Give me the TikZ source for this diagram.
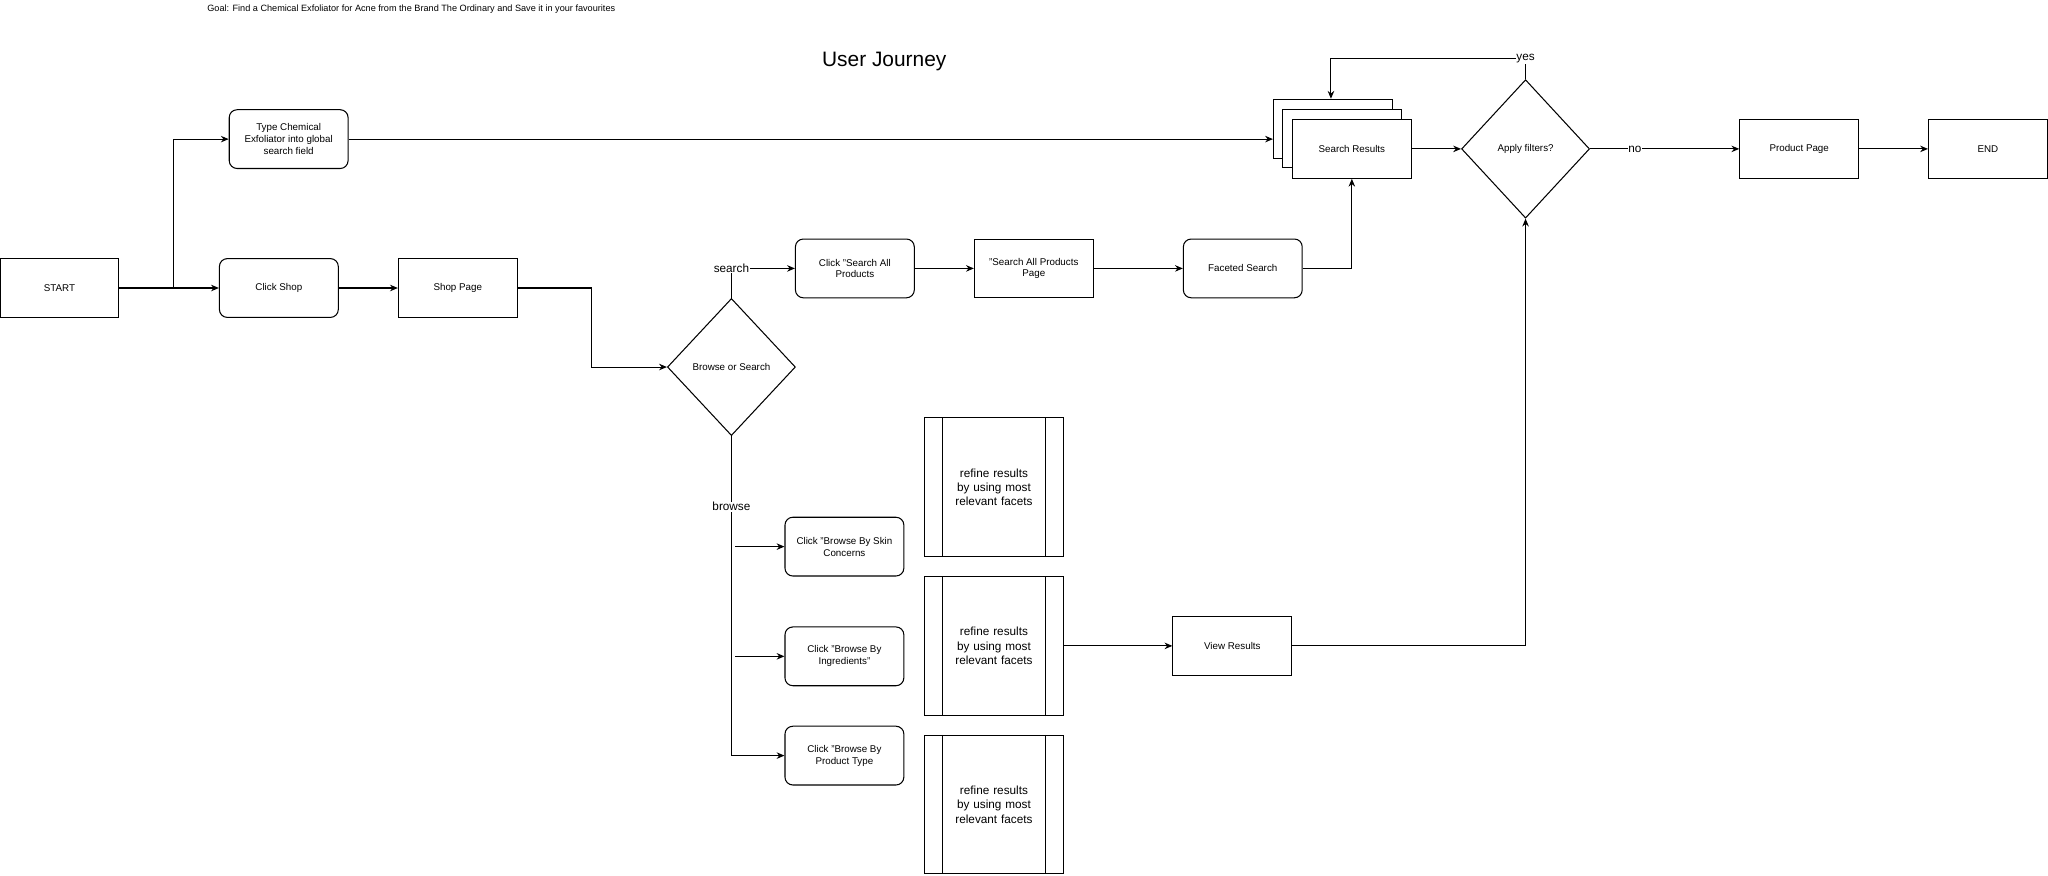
\documentclass[tikz,border=0pt]{standalone}
\usepackage{fontspec}
\setmainfont{Liberation Sans}
\usetikzlibrary{arrows.meta,shapes.geometric,positioning}
\begin{document}
\begin{tikzpicture}[x=1pt,y=-1pt,line width=0.8pt,
  box/.style={draw,minimum width=91pt,minimum height=45pt,align=center,font=\fontsize{7.5}{9}\selectfont,inner sep=1pt},
  rbox/.style={box,rounded corners=6pt},
  dia/.style={draw,diamond,minimum width=98pt,minimum height=105pt,aspect=0.93,align=center,font=\fontsize{7.5}{9}\selectfont,inner sep=0pt},
  proc/.style={draw,minimum width=106pt,minimum height=106pt,align=center,font=\fontsize{9}{11}\selectfont,text width=80pt},
  arr/.style={-{Stealth[length=6pt,width=5pt]}},
  lbl/.style={fill=white,font=\fontsize{9}{10}\selectfont,inner sep=0.5pt}]
\useasboundingbox (0,0) rectangle (1568,670);
\node[anchor=west,font=\fontsize{7}{8}\selectfont] (goal) at (155,7) {Goal: Find a Chemical Exfoliator for Acne from the Brand The Ordinary and Save it in your favourites};
\node[font=\fontsize{16}{18}\selectfont] (title) at (677,47) {User Journey};
\node[box] (start) at (45.5,220.5) {START};
\node[rbox] (shop) at (213.5,220.5) {Click Shop};
\node[box] (shoppage) at (350.5,220.5) {Shop Page};
\node[rbox] (type) at (221,106.5) {Type Chemical\\Exfoliator into global\\search field};
\node[box] (sr3) at (1020.5,98.5) {};
\node[box,fill=white] (sr2) at (1027.5,106) {};
\node[box,fill=white] (sr) at (1035,114) {Search Results};
\node[dia] (bs) at (560,281) {Browse or Search};
\node[rbox] (csa) at (654.5,205.5) {Click "Search All\\Products};
\node[box] (sap) at (791.5,205.5) {"Search All Products\\Page};
\node[rbox] (fs) at (951.5,205.5) {Faceted Search};
\node[dia,minimum height=106pt] (af) at (1168,114) {Apply filters?};
\node[box] (pp) at (1377.5,114) {Product Page};
\node[box] (end) at (1522,114) {END};
\node[rbox] (skin) at (646.5,418.5) {Click "Browse By Skin\\Concerns};
\node[rbox] (ingr) at (646.5,502.5) {Click "Browse By\\Ingredients"};
\node[rbox] (ptype) at (646.5,578.5) {Click "Browse By\\Product Type};
\foreach \n/\y in {p1/373,p2/494.5,p3/616}{
  \node[proc] (\n) at (761,\y) {refine results by using most relevant facets};
  \draw ([xshift=14pt]\n.north west) -- ([xshift=14pt]\n.south west);
  \draw ([xshift=-14pt]\n.north east) -- ([xshift=-14pt]\n.south east);
}
\node[box] (vr) at (943.5,494.5) {View Results};
\coordinate (split) at (133,220.5);
\draw (start) -- (split);
\draw[arr] (split) -- (shop);
\draw[arr] (split) |- (type.west);
\draw[arr] (type.east) -- (type.east -| sr3.west);
\draw[arr] (shop) -- (shoppage);
\draw[arr] (shoppage.east) -- (453,220.5) |- (bs.west);
\draw[arr] (bs.north) |- (csa.west) node[lbl,pos=0.5] {search};
\draw[arr] (csa) -- (sap);
\draw[arr] (sap) -- (fs);
\draw[arr] (fs.east) -| (sr.south);
\draw[arr] (sr) -- (af);
\draw[arr] (af.north) -- (1168,45) node[lbl] {yes} -| (sr3.north -| 1019,0);
\draw[arr] (af.east) -- (pp.west) node[lbl,pos=0.3] {no};
\draw[arr] (pp) -- (end);
\draw[arr] (bs.south) |- (ptype.west);
\node[lbl] (browse) at (560,388) {browse};
\coordinate (b1) at (563,418.5);
\coordinate (b2) at (563,502.5);
\draw[arr] (b1) -- (skin.west);
\draw[arr] (b2) -- (ingr.west);
\draw[arr] (p2) -- (vr);
\draw[arr] (vr.east) -| (af.south);
\end{tikzpicture}
\end{document}
